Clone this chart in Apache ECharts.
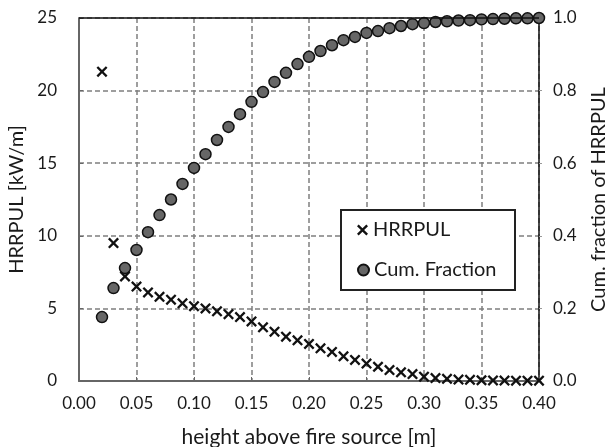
<!DOCTYPE html>
<html>
<head>
<meta charset="utf-8">
<script src="https://cdn.jsdelivr.net/npm/echarts@6/dist/echarts.min.js"></script>
<style>
  html, body { margin: 0; padding: 0; background: #fff; }
  #chart { width: 615px; height: 447px; }
</style>
</head>
<body>
<div id="chart"></div>
<script>
// heights above fire source [m]
const heights = [0.02, 0.03, 0.04, 0.05, 0.06, 0.07, 0.08, 0.09, 0.10, 0.11,
  0.12, 0.13, 0.14, 0.15, 0.16, 0.17, 0.18, 0.19, 0.20, 0.21,
  0.22, 0.23, 0.24, 0.25, 0.26, 0.27, 0.28, 0.29, 0.30, 0.31,
  0.32, 0.33, 0.34, 0.35, 0.36, 0.37, 0.38, 0.39, 0.40];

// HRRPUL [kW/m]
const hrrpul = [21.3, 9.5, 7.2, 6.5, 6.1, 5.8, 5.6, 5.35, 5.15, 5.0,
  4.8, 4.6, 4.4, 4.1, 3.7, 3.4, 3.05, 2.8, 2.55, 2.25,
  2.0, 1.7, 1.45, 1.2, 0.98, 0.75, 0.6, 0.48, 0.3, 0.2,
  0.15, 0.1, 0.08, 0.05, 0.04, 0.03, 0.02, 0.02, 0.02];

// cumulative fraction of HRRPUL
const cumFraction = [0.176, 0.256, 0.311, 0.361, 0.41, 0.457, 0.50, 0.543, 0.587, 0.625,
  0.664, 0.70, 0.735, 0.769, 0.796, 0.824, 0.849, 0.873, 0.893, 0.909,
  0.925, 0.939, 0.948, 0.959, 0.964, 0.972, 0.978, 0.983, 0.986, 0.989,
  0.991, 0.993, 0.994, 0.996, 0.997, 0.998, 0.999, 0.999, 1.0];

const FONT = 'Lato';
const TXT = '#1a1a1a';
const crossPath = 'path://M0,1.5L1.5,0L5,3.5L8.5,0L10,1.5L6.5,5L10,8.5L8.5,10L5,6.5L1.5,10L0,8.5L3.5,5Z';

const chart = echarts.init(document.getElementById('chart'));

const gridDash = { color: '#7f7f7f', width: 1.5, type: [5, 3] };

// one legend per entry so the two rows line up; the box is drawn as a graphic
const legendBase = {
  orient: 'vertical',
  align: 'left',
  padding: 0,
  z: 20,
  itemWidth: 11,
  itemHeight: 11,
  textStyle: { color: TXT, fontSize: 20, fontFamily: FONT, lineHeight: 20 }
};

chart.setOption({
  backgroundColor: '#fff',
  animation: false,
  textStyle: { fontFamily: FONT },
  grid: { left: 79, right: 76, top: 18, bottom: 66, outerBoundsMode: 'none' },
  legend: [
    Object.assign({}, legendBase, {
      left: 357, top: 220,
      data: [{ name: 'HRRPUL', icon: crossPath, itemStyle: { color: '#111', borderWidth: 0 } }]
    }),
    Object.assign({}, legendBase, {
      left: 357, top: 260,
      data: [{ name: 'Cum. Fraction', icon: 'circle' }]
    })
  ],
  xAxis: {
    type: 'value',
    min: 0,
    max: 0.4,
    interval: 0.05,
    name: 'height above fire source [m]',
    nameLocation: 'middle',
    nameGap: 46,
    nameTextStyle: { color: TXT, fontSize: 21, fontFamily: FONT },
    axisLine: { lineStyle: { color: '#666', width: 2 } },
    axisTick: { inside: true, length: 4, lineStyle: { color: '#666' } },
    axisLabel: { color: TXT, fontSize: 17, margin: 14, formatter: v => v.toFixed(2) },
    splitLine: { show: true, lineStyle: gridDash }
  },
  yAxis: [
    {
      type: 'value',
      min: 0,
      max: 25,
      interval: 5,
      name: 'HRRPUL [kW/m]',
      nameLocation: 'middle',
      nameGap: 49,
      nameTextStyle: { color: TXT, fontSize: 20, fontFamily: FONT },
      axisLine: { show: true, lineStyle: { color: '#666', width: 2 } },
      axisTick: { show: true, inside: true, length: 4, lineStyle: { color: '#666' } },
      axisLabel: { color: TXT, fontSize: 17, margin: 22 },
      splitLine: { show: true, lineStyle: gridDash }
    },
    {
      type: 'value',
      min: 0,
      max: 1,
      interval: 0.2,
      name: 'Cum. fraction of HRRPUL',
      nameLocation: 'middle',
      nameGap: 50,
      nameRotate: 90,
      nameTextStyle: { color: TXT, fontSize: 20, fontFamily: FONT },
      axisLine: { show: true, lineStyle: { color: '#111', width: 1.5 } },
      axisTick: { show: true, inside: false, length: 3, lineStyle: { color: '#999' } },
      axisLabel: { color: TXT, fontSize: 17, margin: 14, formatter: v => v.toFixed(1) },
      splitLine: { show: false }
    }
  ],
  graphic: [
    {
      type: 'line',
      shape: { x1: 79, y1: 18, x2: 539, y2: 18 },
      style: { stroke: '#111', lineWidth: 1.5 },
      z: 10
    },
    {
      type: 'rect',
      shape: { x: 341, y: 210, width: 174, height: 80 },
      style: { fill: '#fff', stroke: '#222', lineWidth: 2 },
      z: 1
    }
  ],
  series: [
    {
      name: 'Cum. Fraction',
      type: 'scatter',
      yAxisIndex: 1,
      data: heights.map((h, i) => [h, cumFraction[i]]),
      symbol: 'circle',
      symbolSize: 11,
      itemStyle: { color: '#666', borderColor: '#111', borderWidth: 1.5, opacity: 1 },
      z: 3
    },
    {
      name: 'HRRPUL',
      type: 'scatter',
      yAxisIndex: 0,
      data: heights.map((h, i) => [h, hrrpul[i]]),
      symbol: crossPath,
      symbolSize: 11,
      itemStyle: { color: '#111', opacity: 1 },
      z: 4
    }
  ]
});
</script>
</body>
</html>
